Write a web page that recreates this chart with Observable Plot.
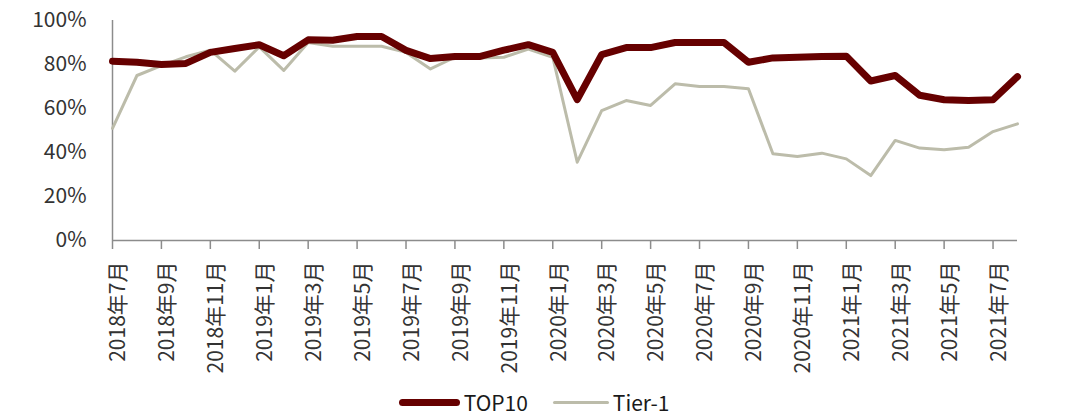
<!DOCTYPE html>
<html>
<head>
<meta charset="utf-8">
<script src="https://cdn.jsdelivr.net/npm/d3@7"></script>
<script src="https://cdn.jsdelivr.net/npm/@observablehq/plot@0.6"></script>
<style>
  html, body { margin: 0; padding: 0; background: #fff; }
  body { width: 1080px; height: 418px; overflow: hidden; font-family: "Noto Sans CJK SC", "Noto Sans", sans-serif; }
  #legend { display: flex; justify-content: center; align-items: center; height: 32px; font-size: 21px; color: #1a1a1a; padding-right: 12px; }
  .item { display: flex; align-items: center; }
  .sw { display: inline-block; border-radius: 4px; margin-right: 4px; }
</style>
</head>
<body>
<div id="chart"></div>
<div id="legend"></div>
<script>
const months = [
  "2018年7月","2018年8月","2018年9月","2018年10月","2018年11月","2018年12月",
  "2019年1月","2019年2月","2019年3月","2019年4月","2019年5月","2019年6月",
  "2019年7月","2019年8月","2019年9月","2019年10月","2019年11月","2019年12月",
  "2020年1月","2020年2月","2020年3月","2020年4月","2020年5月","2020年6月",
  "2020年7月","2020年8月","2020年9月","2020年10月","2020年11月","2020年12月",
  "2021年1月","2021年2月","2021年3月","2021年4月","2021年5月","2021年6月",
  "2021年7月","2021年8月"
];
const top10 = [
  81.5, 81, 80, 80.5, 85.5, 87.3, 89, 84, 91.2, 91, 92.7, 92.7,
  86.4, 82.7, 83.6, 83.6, 86.5, 89, 85.5, 64, 84.5, 87.7, 87.7, 90,
  90, 90, 81, 83, 83.3, 83.6, 83.8, 72.5, 75, 66, 64, 63.6, 64, 74.5
];
const tier1 = [
  51, 75, 79.5, 83.5, 86.5, 77, 88, 77.3, 90, 88.3, 88.3, 88.3,
  85.5, 78, 83.3, 83, 83.3, 87, 83.3, 35.6, 59, 63.6, 61.4, 71.2,
  70, 70, 69, 39.4, 38.2, 39.7, 37.1, 29.5, 45.5, 42, 41.2, 42.4, 49.5, 53
];
const yTicks = [0, 20, 40, 60, 80, 100];
const seriesNames = ["TOP10", "Tier-1"];
const seriesColors = ["#660000", "#bcbcaa"];
const seriesWidths = [7, 3];

const rows = [];
months.forEach((m, i) => {
  rows.push({month: m, value: top10[i], series: seriesNames[0]});
  rows.push({month: m, value: tier1[i], series: seriesNames[1]});
});
const xTicks = months.filter((d, i) => i % 2 === 0);
const axisColor = "#8c8c8c";
const textColor = "#333333";

const chart = Plot.plot({
  width: 1080,
  height: 386,
  marginLeft: 112,
  marginRight: 63,
  marginTop: 20,
  marginBottom: 146,
  style: {fontFamily: '"Noto Sans CJK SC", "Noto Sans", sans-serif', fontSize: "21px", color: textColor, background: "#fff"},
  x: {type: "point", domain: months, padding: 0, round: false},
  y: {domain: [0, 100]},
  marks: [
    Plot.ruleY([0], {stroke: axisColor, strokeWidth: 1.5}),
    Plot.ruleX([months[0]], {y1: 0, y2: 100, stroke: axisColor, strokeWidth: 1.5}),
    Plot.axisY({ticks: yTicks, tickSize: 0, tickPadding: 26, tickFormat: d => d + "%", fill: textColor, fontSize: 21, label: null}),
    Plot.axisX({ticks: xTicks, tickSize: 9, tickFormat: () => "", stroke: axisColor, strokeWidth: 1.5, label: null}),
    Plot.axisX({ticks: xTicks, tickSize: 0, tickRotate: -90, tickPadding: 21, fill: textColor, fontSize: 21, label: null, dx: 6}),
    Plot.line(rows.filter(d => d.series === "Tier-1"), {x: "month", y: "value", stroke: seriesColors[1], strokeWidth: seriesWidths[1], strokeLinejoin: "round"}),
    Plot.line(rows.filter(d => d.series === "TOP10"), {x: "month", y: "value", stroke: seriesColors[0], strokeWidth: seriesWidths[0], strokeLinejoin: "round"})
  ]
});
document.getElementById("chart").appendChild(chart);

const legend = document.getElementById("legend");
seriesNames.forEach((name, i) => {
  const item = document.createElement("span");
  item.className = "item";
  item.style.marginRight = i === 0 ? "25px" : "0";
  const sw = document.createElement("span");
  sw.className = "sw";
  sw.style.width = (i === 0 ? 61 : 56) + "px";
  sw.style.height = seriesWidths[i] + "px";
  sw.style.background = seriesColors[i];
  const t = document.createElement("span");
  t.textContent = name;
  item.appendChild(sw);
  item.appendChild(t);
  legend.appendChild(item);
});
</script>
</body>
</html>
